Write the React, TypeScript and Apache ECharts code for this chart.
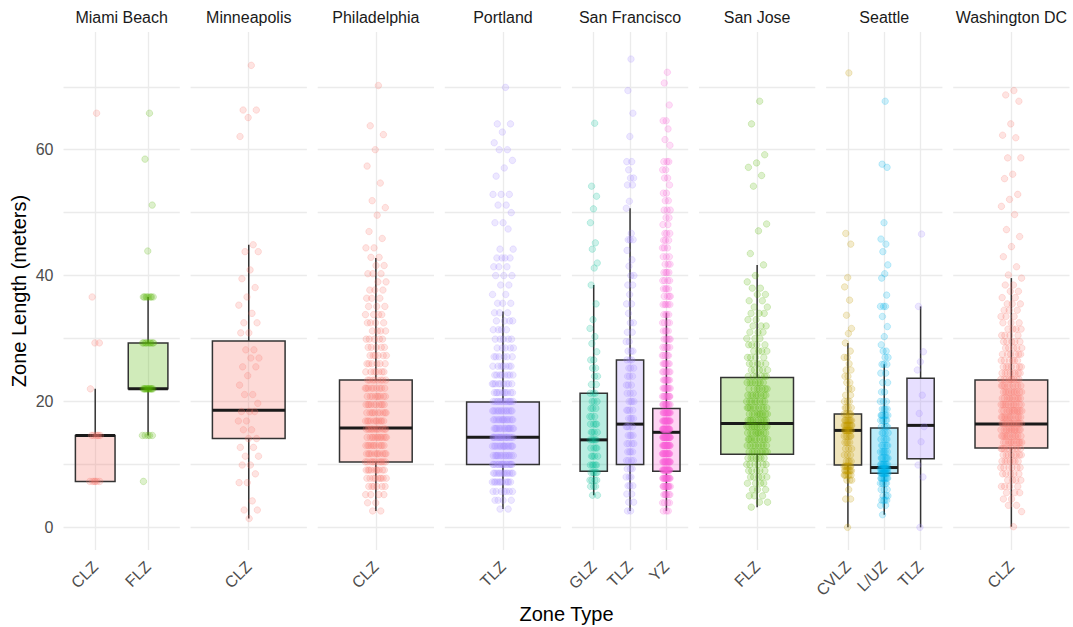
import React, { useEffect, useRef } from "react";
import * as echarts from "echarts";

// ---------- data ----------
const cities = ["Miami Beach", "Minneapolis", "Philadelphia", "Portland", "San Francisco", "San Jose", "Seattle", "Washington DC"];
const cityZones = [["CLZ", "FLZ"], ["CLZ"], ["CLZ"], ["TLZ"], ["GLZ", "TLZ", "YZ"], ["FLZ"], ["CVLZ", "L/UZ", "TLZ"], ["CLZ"]];
const zoneColors: Record<string, string> = {
  CLZ: "#F8766D", CVLZ: "#C49A00", FLZ: "#53B400", GLZ: "#00C094", "L/UZ": "#00B6EB", TLZ: "#A58AFF", YZ: "#FB61D7",
};
const yTickLabels = [0, 20, 40, 60];
const xTitle = "Zone Type";
const yTitle = "Zone Length (meters)";

// box statistics: [lower whisker, Q1, median, Q3, upper whisker]
const boxMiamiBeachCLZ = [7.3, 7.3, 14.6, 14.6, 22.0];
const boxMiamiBeachFLZ = [14.6, 22.0, 22.0, 29.3, 36.6];
const boxMinneapolisCLZ = [1.4, 14.1, 18.6, 29.6, 44.9];
const boxPhiladelphiaCLZ = [2.6, 10.4, 15.8, 23.4, 42.8];
const boxPortlandTLZ = [2.9, 10.0, 14.3, 19.9, 34.3];
const boxSanFranciscoGLZ = [5.1, 8.9, 13.9, 21.3, 38.5];
const boxSanFranciscoTLZ = [2.6, 10.0, 16.4, 26.6, 50.7];
const boxSanFranciscoYZ = [2.6, 8.9, 15.1, 18.9, 34.1];
const boxSanJoseFLZ = [3.2, 11.6, 16.5, 23.8, 41.7];
const boxSeattleCVLZ = [0.0, 9.9, 15.4, 18.0, 29.3];
const boxSeattleLUZ = [2.0, 8.6, 9.5, 15.8, 25.9];
const boxSeattleTLZ = [0.0, 10.9, 16.2, 23.7, 35.1];
const boxWashingtonDCCLZ = [0.1, 12.6, 16.4, 23.4, 39.6];

// observations: [zone length, number of observations]
const ptsMiamiBeachCLZ = [[65.8, 1], [36.6, 1], [29.3, 2], [22, 1], [14.6, 6], [7.3, 6]];
const ptsMiamiBeachFLZ = [[65.8, 1], [58.5, 1], [51.2, 1], [43.9, 1], [36.6, 8], [29.3, 9], [22, 12], [14.6, 5], [7.3, 1]];
const ptsMinneapolisCLZ = [[73.4, 1], [66.3, 2], [65.1, 1], [62.1, 1], [44.9, 1], [43.8, 2], [40.9, 1], [39.5, 1], [38.1, 1], [36.6, 1], [35.3, 1], [34.0, 1], [32.5, 2], [30.9, 2], [28.2, 2], [26.9, 2], [25.5, 2], [24.1, 1], [22.6, 1], [21.1, 2], [19.7, 1], [18.4, 3], [16.9, 2], [15.5, 2], [14.1, 2], [12.7, 2], [11.3, 2], [9.9, 2], [8.5, 1], [7.1, 2], [4.2, 1], [2.75, 2], [1.4, 1]];
const ptsPhiladelphiaCLZ = [[70.2, 1], [63.8, 1], [62.4, 1], [60, 1], [57.4, 1], [54.7, 1], [51.9, 1], [50.8, 1], [49.6, 1], [47, 1], [45.9, 1], [44.4, 2], [42.9, 2], [41.6, 2], [40.3, 3], [39, 2], [37.7, 3], [36.4, 3], [35.1, 3], [33.8, 4], [32.5, 4], [31.2, 4], [29.9, 5], [28.6, 5], [27.3, 6], [26, 6], [24.7, 7], [23.4, 8], [22.1, 9], [20.8, 9], [19.5, 10], [18.2, 10], [16.9, 11], [15.6, 12], [14.3, 12], [13, 11], [11.7, 11], [10.4, 11], [9.1, 10], [7.8, 9], [6.5, 6], [5.2, 4], [3.9, 2], [2.6, 2]];
const ptsPortlandTLZ = [[69.9, 1], [64.1, 2], [62.8, 1], [61.1, 1], [60, 2], [58.3, 1], [57.1, 1], [55.8, 1], [52.9, 3], [51.2, 2], [50, 1], [48.4, 2], [47.4, 1], [44.2, 2], [42.8, 4], [41.4, 3], [40, 3], [38.5, 2], [37, 2], [35.6, 3], [34.1, 3], [32.8, 4], [31.4, 4], [29.9, 5], [28.5, 5], [27.1, 6], [25.6, 7], [24.2, 8], [22.8, 9], [21.4, 10], [20, 14], [18.5, 13], [17.1, 14], [15.7, 15], [14.3, 17], [12.9, 15], [11.4, 14], [10, 15], [8.6, 13], [7.2, 11], [5.7, 7], [4.3, 4], [2.9, 2]];
const ptsSanFranciscoGLZ = [[64.2, 1], [54.2, 1], [52.6, 1], [50.6, 1], [48.4, 1], [45.2, 1], [44.2, 1], [42, 1], [41.2, 1], [38.5, 1], [35.5, 1], [33, 1], [31.6, 1], [30.3, 1], [29.2, 1], [27.9, 1], [26.6, 2], [25.3, 2], [24, 2], [22.7, 2], [21.3, 3], [20, 3], [18.9, 3], [17.6, 3], [16.4, 4], [15.1, 4], [13.9, 5], [12.6, 4], [11.3, 4], [9.9, 5], [8.7, 5], [7.5, 4], [6.5, 3], [5.1, 2]];
const ptsSanFranciscoTLZ = [[74.4, 1], [69.4, 1], [65.8, 1], [62.1, 1], [58.1, 2], [56.8, 1], [55.5, 2], [54.4, 2], [51.8, 1], [50.7, 1], [46.7, 1], [45.7, 3], [44, 1], [42.5, 1], [41.5, 1], [40, 2], [38.5, 2], [37, 1], [35.5, 2], [34, 1], [32.5, 2], [31, 2], [29.5, 2], [28, 3], [26.6, 3], [25.3, 3], [24, 3], [22.6, 3], [21.3, 3], [20, 4], [18.6, 4], [17.3, 4], [16, 4], [14.6, 4], [13.3, 4], [12, 4], [10.6, 4], [9.3, 3], [8, 3], [6.6, 3], [5.3, 2], [4, 2], [2.6, 2]];
const ptsSanFranciscoYZ = [[72.3, 1], [70.6, 1], [67.1, 1], [64.6, 2], [63.3, 1], [61.6, 1], [60.7, 1], [58.1, 3], [56.8, 2], [55.5, 2], [54.4, 1], [53.1, 2], [51.9, 2], [50.4, 3], [49.2, 2], [48.1, 2], [46.7, 3], [45.6, 3], [44.4, 3], [43, 3], [41.8, 3], [40.5, 4], [39.2, 4], [37.9, 4], [36.7, 4], [35.4, 5], [33.8, 4], [32.5, 4], [31.2, 4], [29.9, 5], [28.6, 5], [27.3, 5], [26, 6], [24.7, 6], [23.4, 7], [22.1, 8], [20.8, 9], [19.5, 10], [18.2, 14], [16.9, 16], [15.6, 18], [14.3, 20], [13, 18], [11.7, 16], [10.4, 16], [9.1, 16], [7.8, 14], [6.5, 10], [5.2, 6], [3.9, 4], [2.6, 3]];
const ptsSanJoseFLZ = [[67.7, 1], [64.1, 1], [59.2, 1], [57.9, 1], [57.2, 1], [55.9, 1], [54.2, 1], [48.2, 1], [47.1, 1], [43.5, 1], [41.7, 1], [40, 1], [39, 1], [38, 2], [37, 2], [36, 2], [35, 2], [34, 3], [33, 2], [32, 3], [31, 3], [30, 3], [29, 4], [28, 4], [27, 4], [26, 5], [25, 5], [24, 6], [23, 7], [22, 7], [21, 8], [20, 8], [19, 9], [18, 9], [17, 10], [16, 10], [15, 9], [14, 9], [13, 8], [12, 8], [11, 7], [10, 6], [9, 5], [8, 5], [7, 4], [6, 3], [5, 3], [4, 2], [3.2, 1]];
const ptsSeattleCVLZ = [[72.2, 1], [46.7, 1], [45.0, 1], [39.7, 1], [38.2, 1], [36.1, 1], [33.7, 1], [31.6, 1], [30.8, 1], [29.3, 1], [28, 1], [27, 2], [26, 1], [25, 2], [24, 2], [23, 2], [22, 2], [21, 2], [20, 3], [19, 4], [18, 6], [17, 8], [16.2, 10], [15.4, 10], [14.5, 6], [13.5, 4], [12.5, 3], [11.5, 3], [10.5, 4], [9.7, 8], [9, 8], [8.3, 6], [7.5, 3], [6, 1], [4.5, 2], [0, 1]];
const ptsSeattleLUZ = [[67.7, 1], [57.7, 1], [57.2, 1], [48.4, 1], [45.8, 1], [45, 1], [43.8, 1], [41.7, 1], [40.3, 1], [39.6, 1], [36.9, 1], [35.1, 3], [33.5, 1], [31.9, 1], [30.3, 1], [29, 1], [28, 2], [27, 2], [25.9, 3], [24.5, 2], [23, 2], [21.5, 2], [20, 3], [18.8, 4], [17.8, 6], [17, 5], [16, 4], [15, 4], [14, 4], [13, 5], [12, 6], [11, 7], [10, 9], [9.3, 12], [8.6, 12], [7.8, 8], [7, 5], [6, 3], [5, 3], [4.3, 4], [3.5, 2], [2, 1]];
const ptsSeattleTLZ = [[46.6, 1], [35.1, 1], [27.9, 1], [26.3, 1], [25, 1], [21, 1], [18.1, 1], [16, 1], [13.6, 1], [9.9, 1], [8, 1], [0, 1]];
const ptsWashingtonDCCLZ = [[69.4, 1], [68.7, 1], [67.7, 1], [64.1, 1], [62.3, 1], [61.9, 1], [58.7, 2], [56.1, 1], [55.4, 1], [52.9, 1], [52.1, 1], [51, 1], [49.7, 1], [47.3, 1], [46.2, 1], [44.6, 1], [43, 1], [41.4, 1], [40.1, 1], [39.6, 1], [38.5, 2], [37.5, 2], [36.5, 2], [35.5, 3], [34.5, 3], [33.5, 3], [32.5, 3], [31.5, 4], [30.5, 4], [29.5, 5], [28.5, 5], [27.5, 6], [26.5, 6], [25.5, 7], [24.5, 8], [23.5, 9], [22.5, 9], [21.5, 10], [20.5, 10], [19.5, 11], [18.5, 12], [17.5, 12], [16.5, 13], [15.5, 12], [14.5, 11], [13.5, 10], [12.5, 9], [11.5, 8], [10.5, 7], [9.5, 6], [8.5, 5], [7.5, 4], [6.5, 4], [5.5, 3], [4.5, 2], [3.5, 2], [2.5, 1], [0.1, 1]];

const groups = [
  { city: 0, zone: "CLZ", box: boxMiamiBeachCLZ, pts: ptsMiamiBeachCLZ },
  { city: 0, zone: "FLZ", box: boxMiamiBeachFLZ, pts: ptsMiamiBeachFLZ },
  { city: 1, zone: "CLZ", box: boxMinneapolisCLZ, pts: ptsMinneapolisCLZ },
  { city: 2, zone: "CLZ", box: boxPhiladelphiaCLZ, pts: ptsPhiladelphiaCLZ },
  { city: 3, zone: "TLZ", box: boxPortlandTLZ, pts: ptsPortlandTLZ },
  { city: 4, zone: "GLZ", box: boxSanFranciscoGLZ, pts: ptsSanFranciscoGLZ },
  { city: 4, zone: "TLZ", box: boxSanFranciscoTLZ, pts: ptsSanFranciscoTLZ },
  { city: 4, zone: "YZ", box: boxSanFranciscoYZ, pts: ptsSanFranciscoYZ },
  { city: 5, zone: "FLZ", box: boxSanJoseFLZ, pts: ptsSanJoseFLZ },
  { city: 6, zone: "CVLZ", box: boxSeattleCVLZ, pts: ptsSeattleCVLZ },
  { city: 6, zone: "L/UZ", box: boxSeattleLUZ, pts: ptsSeattleLUZ },
  { city: 6, zone: "TLZ", box: boxSeattleTLZ, pts: ptsSeattleTLZ },
  { city: 7, zone: "CLZ", box: boxWashingtonDCCLZ, pts: ptsWashingtonDCCLZ },
];

// ---------- layout / style ----------
const FONT = "'Liberation Sans', Arial, Helvetica, sans-serif";
const PANEL_LEFT = 63.5;
const PANEL_STEP = 127.1;
const PANEL_W = 116.3;
const PANEL_TOP = 32;
const PANEL_H = 518;
const Y_MIN = -3.6;
const Y_MAX = 78.7;
const JITTER = 0.11;
const GRID_COLOR = "#EBEBEB";

function rgba(hex: string, a: number) {
  const n = parseInt(hex.slice(1), 16);
  return `rgba(${n >> 16},${(n >> 8) & 255},${n & 255},${a})`;
}

function buildOption() {
  const grid = cities.map((_, k) => ({
    left: PANEL_LEFT + k * PANEL_STEP,
    top: PANEL_TOP,
    width: PANEL_W,
    height: PANEL_H,
  }));

  const xAxis = cities.map((_, k) => {
    const zones = cityZones[k];
    return {
      type: "value",
      gridIndex: k,
      min: 0.4,
      max: zones.length + 0.6,
      minInterval: 1,
      maxInterval: 1,
      axisLine: { show: false },
      axisTick: { show: false },
      axisLabel: {
        rotate: 45,
        margin: 14,
        color: "#4D4D4D",
        fontSize: 16,
        fontFamily: FONT,
        formatter: (v: number) => {
          const r = Math.round(v);
          return Math.abs(v - r) < 1e-6 && r >= 1 && r <= zones.length ? zones[r - 1] : "";
        },
      },
      splitLine: { show: true, showMinLine: false, showMaxLine: false, lineStyle: { color: GRID_COLOR, width: 1.3 } },
    };
  });

  const yAxis = cities.map((_, k) => ({
    type: "value",
    gridIndex: k,
    min: Y_MIN,
    max: Y_MAX,
    minInterval: 10,
    maxInterval: 10,
    axisLine: { show: false },
    axisTick: { show: false },
    axisLabel: {
      show: k === 0,
      color: "#4D4D4D",
      fontSize: 16,
      fontFamily: FONT,
      margin: 10,
      formatter: (v: number) => (yTickLabels.includes(v) ? String(v) : ""),
    },
    splitLine: { show: true, showMinLine: false, showMaxLine: false, lineStyle: { color: GRID_COLOR, width: 1.3 } },
  }));

  const series: any[] = [];
  groups.forEach((g) => {
    const zi = cityZones[g.city].indexOf(g.zone) + 1;
    const color = zoneColors[g.zone];
    series.push({
      type: "custom",
      xAxisIndex: g.city,
      yAxisIndex: g.city,
      silent: true,
      z: 2,
      encode: { x: 0, y: [1, 2, 3, 4, 5] },
      data: [[zi, ...g.box]],
      renderItem: (params: any, api: any) => {
        const x = api.value(0);
        const lo = api.coord([x, api.value(1)]);
        const q1 = api.coord([x, api.value(2)]);
        const med = api.coord([x, api.value(3)]);
        const q3 = api.coord([x, api.value(4)]);
        const hi = api.coord([x, api.value(5)]);
        const half = api.size([0.75, 0])[0] / 2;
        const stroke = "#333333";
        return {
          type: "group",
          children: [
            { type: "line", shape: { x1: lo[0], y1: lo[1], x2: q1[0], y2: q1[1] }, style: { stroke, lineWidth: 1.5 } },
            { type: "line", shape: { x1: q3[0], y1: q3[1], x2: hi[0], y2: hi[1] }, style: { stroke, lineWidth: 1.5 } },
            {
              type: "rect",
              shape: { x: q1[0] - half, y: q3[1], width: half * 2, height: Math.max(q1[1] - q3[1], 0.01) },
              style: { fill: rgba(color, 0.27), stroke, lineWidth: 1.5 },
            },
            { type: "line", shape: { x1: med[0] - half, y1: med[1], x2: med[0] + half, y2: med[1] }, style: { stroke: "#1A1A1A", lineWidth: 3 } },
          ],
        };
      },
    });

    const data: number[][] = [];
    let j = 0;
    g.pts.forEach(([v, c]) => {
      for (let i = 0; i < c; i++) {
        const off = ((((j + 1) * 0.6180339887) % 1) - 0.5) * 2 * JITTER;
        data.push([zi + off, v]);
        j++;
      }
    });
    series.push({
      type: "scatter",
      xAxisIndex: g.city,
      yAxisIndex: g.city,
      silent: true,
      z: 3,
      symbol: "circle",
      symbolSize: 6.5,
      itemStyle: { color: rgba(color, 0.25), borderColor: rgba(color, 0.32), borderWidth: 0.8 },
      data,
    });
  });

  const graphic: any[] = cities.map((name, k) => ({
    type: "text",
    x: PANEL_LEFT + k * PANEL_STEP + PANEL_W / 2,
    y: 17.5,
    style: { text: name, fill: "#1A1A1A", font: `16px ${FONT}`, textAlign: "center", textVerticalAlign: "middle" },
  }));
  graphic.push({
    type: "text",
    x: (PANEL_LEFT + PANEL_LEFT + 7 * PANEL_STEP + PANEL_W) / 2,
    y: 614,
    style: { text: xTitle, fill: "#000000", font: `20px ${FONT}`, textAlign: "center", textVerticalAlign: "middle" },
  });
  graphic.push({
    type: "text",
    x: 19,
    y: PANEL_TOP + PANEL_H / 2,
    rotation: Math.PI / 2,
    style: { text: yTitle, fill: "#000000", font: `20px ${FONT}`, textAlign: "center", textVerticalAlign: "middle" },
  });

  return {
    animation: false,
    backgroundColor: "#FFFFFF",
    textStyle: { fontFamily: FONT },
    grid,
    xAxis,
    yAxis,
    series,
    graphic,
  };
}

export default function App() {
  const ref = useRef<HTMLDivElement>(null);
  useEffect(() => {
    if (!ref.current) return;
    const chart = echarts.init(ref.current, undefined, { renderer: "svg" });
    chart.setOption(buildOption() as any);
    return () => chart.dispose();
  }, []);
  return <div ref={ref} style={{ position: "fixed", left: 0, top: 0, width: 1073, height: 627 }} />;
}
